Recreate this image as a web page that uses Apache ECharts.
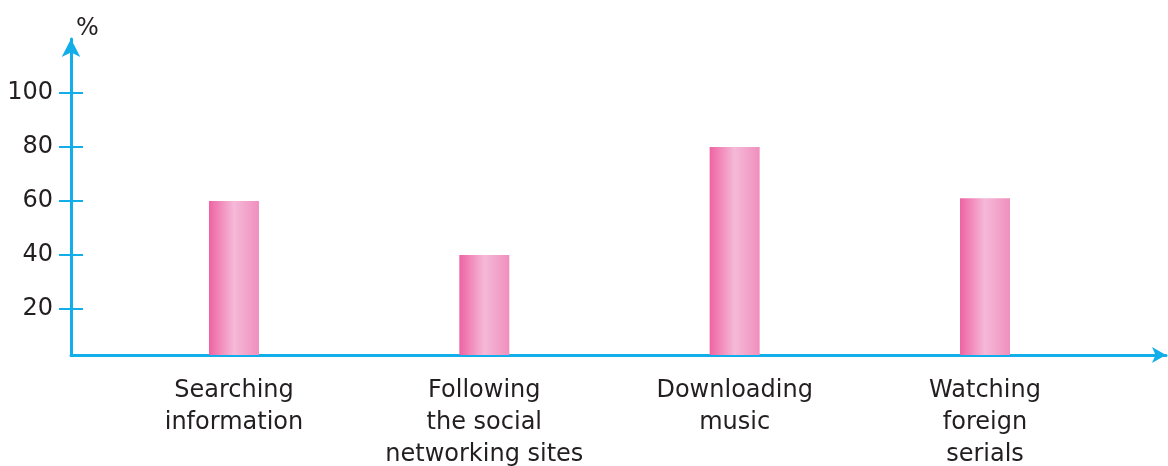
<!DOCTYPE html>
<html>
<head>
<meta charset="utf-8">
<script src="https://cdn.jsdelivr.net/npm/echarts@6/dist/echarts.min.js"></script>
<style>html,body{margin:0;padding:0;background:#fff;}#c{width:1168px;height:466px;}</style>
</head>
<body>
<div id="c"></div>
<script>
const categories = ['Searching\ninformation', 'Following\nthe social\nnetworking sites', 'Downloading\nmusic', 'Watching\nforeign\nserials'];
const positions = [1, 2, 3, 4];
const values = [60, 40, 80, 61];
const yTicks = [20, 40, 60, 80, 100];

const axisColor = '#12aeea';
const textColor = '#231f20';
const font = 'DejaVu Sans';

const barData = positions.map((p, i) => [p, values[i]]);

const chart = echarts.init(document.getElementById('c'));
chart.setOption({
  animation: false,
  grid: { left: 71, right: 2, top: 39, bottom: 111, outerBoundsMode: 'none', containLabel: false },
  xAxis: {
    type: 'value',
    min: 0.349,
    max: 4.723,
    splitLine: { show: false },
    axisLine: { show: true, symbol: ['none', 'arrow'], symbolSize: [12, 14], lineStyle: { color: axisColor, width: 3 } },
    axisTick: { show: false },
    axisLabel: {
      customValues: positions,
      formatter: v => categories[Math.round(v) - 1] || '',
      color: textColor, fontFamily: font, fontSize: 24, lineHeight: 32, margin: 20
    }
  },
  yAxis: [{
    type: 'value',
    min: 2.96,
    max: 120,
    name: '%',
    nameLocation: 'end',
    nameGap: -2,
    nameTextStyle: { color: textColor, fontFamily: font, fontSize: 24, align: 'left', padding: [0, 0, 0, 5] },
    splitLine: { show: false },
    axisLine: { show: true, symbol: ['none', 'arrow'], symbolSize: [14, 18], lineStyle: { color: axisColor, width: 3 } },
    axisTick: { show: true, customValues: yTicks, length: 12, lineStyle: { color: axisColor, width: 2 } },
    axisLabel: { customValues: yTicks, color: textColor, fontFamily: font, fontSize: 24, margin: 18 }
  }, {
    type: 'value',
    min: 2.96,
    max: 120,
    position: 'left',
    splitLine: { show: false },
    axisLine: { show: false },
    axisTick: { show: true, inside: true, customValues: yTicks, length: 12, lineStyle: { color: axisColor, width: 2 } },
    axisLabel: { show: false }
  }],
  series: [{
    type: 'bar',
    data: barData,
    barWidth: 50,
    itemStyle: {
      color: new echarts.graphic.LinearGradient(0, 0, 1, 0, [
        { offset: 0, color: '#ee63a3' },
        { offset: 0.5, color: '#f5b9d7' },
        { offset: 1, color: '#f08fbe' }
      ])
    }
  }]
});
</script>
</body>
</html>
